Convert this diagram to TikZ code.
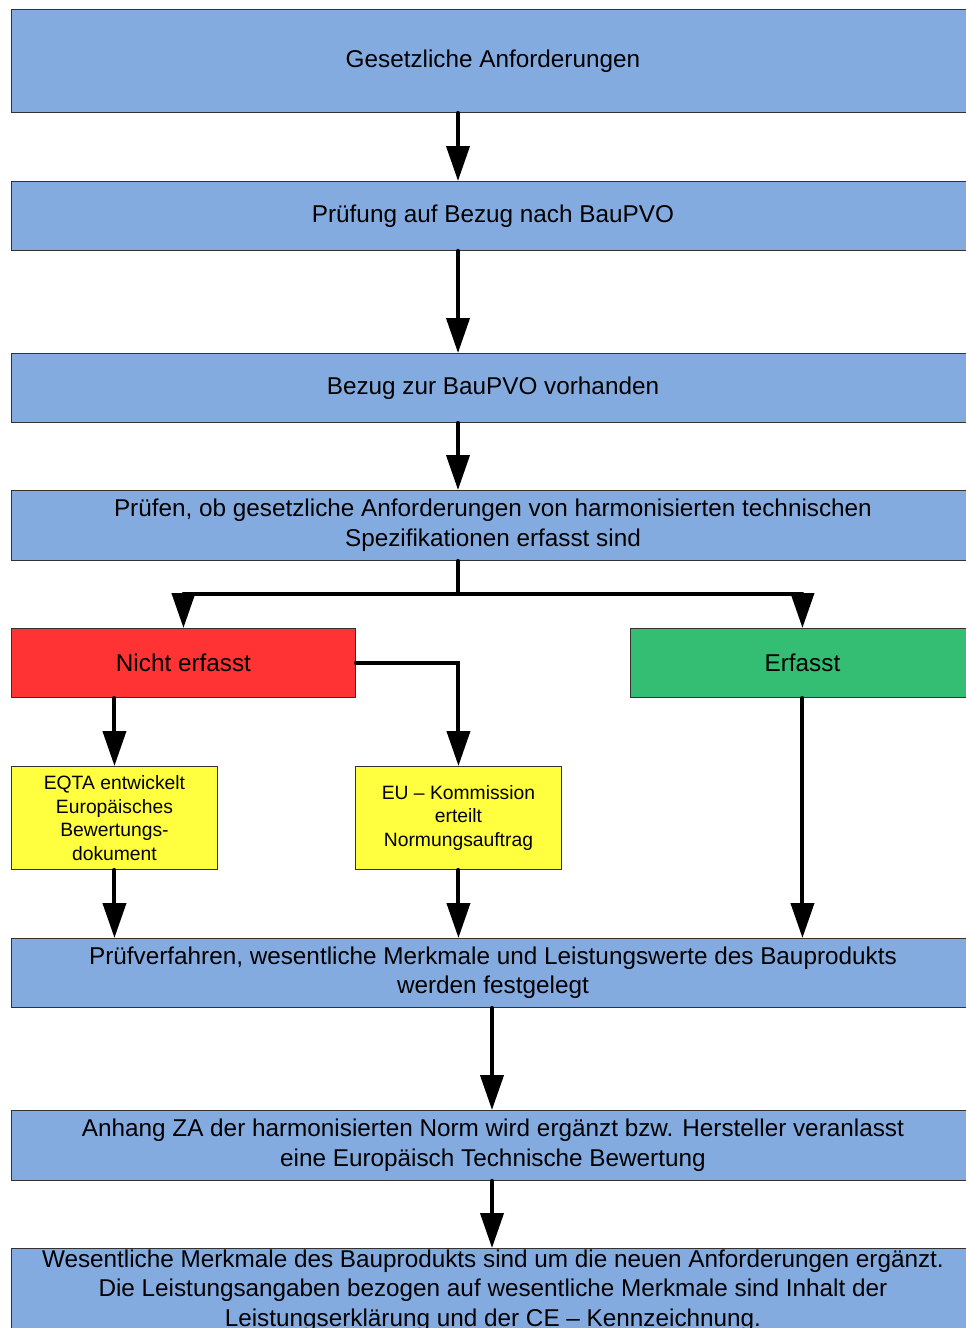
\documentclass[tikz,border=0pt]{standalone}
\usepackage{fontspec}
\setmainfont{Liberation Sans}
\usetikzlibrary{arrows.meta,calc}
\definecolor{bblue}{RGB}{132,171,224}
\definecolor{bred}{RGB}{255,51,51}
\definecolor{bgreen}{RGB}{51,190,116}
\definecolor{byellow}{RGB}{255,255,64}
\definecolor{bline}{RGB}{50,50,50}
\begin{document}
\begin{tikzpicture}[x=1pt,y=-1pt,
  box/.style={draw=bline,line width=0.9pt,anchor=north west,inner sep=0pt,align=center,
     font=\fontsize{24.3}{29.5}\selectfont},
  ybox/.style={box,fill=byellow,font=\fontsize{19.3}{23.6}\selectfont},
  arr/.style={line width=4pt,line cap=round,-{Triangle[length=35pt,width=23pt]}},
  conn/.style={line width=4pt,line cap=round}]
\useasboundingbox (0,0) rectangle (966,1328);
\clip (0,0) rectangle (966,1328);
\node[box,fill=bblue,minimum width=963,minimum height=103] (b1) at (11,9) {Gesetzliche Anforderungen};
\node[box,fill=bblue,minimum width=963,minimum height=69] (b2) at (11,181) {Prüfung auf Bezug nach BauPVO};
\node[box,fill=bblue,minimum width=963,minimum height=69] (b3) at (11,353) {Bezug zur BauPVO vorhanden};
\node[box,fill=bblue,minimum width=963,minimum height=70] (b4) at (11,490) {Prüfen, ob gesetzliche Anforderungen von harmonisierten technischen\\Spezifikationen erfasst sind};
\node[box,fill=bred,minimum width=344,minimum height=69] (nr) at (11,628) {Nicht erfasst};
\node[box,fill=bgreen,minimum width=344,minimum height=69] (er) at (630,628) {Erfasst};
\node[ybox,minimum width=206,minimum height=103] (y1) at (11,766) {EQTA entwickelt\\Europäisches\\Bewertungs-\\dokument};
\node[ybox,minimum width=206,minimum height=103] (y2) at (355,766) {EU – Kommission\\erteilt\\Normungsauftrag};
\node[box,fill=bblue,minimum width=963,minimum height=69] (b7) at (11,938) {Prüfverfahren, wesentliche Merkmale und Leistungswerte des Bauprodukts\\werden festgelegt};
\node[box,fill=bblue,minimum width=963,minimum height=70] (b8) at (11,1110) {Anhang ZA der harmonisierten Norm wird ergänzt bzw. Hersteller veranlasst\\eine Europäisch Technische Bewertung};
\node[box,fill=bblue,minimum width=963,minimum height=84] (b9) at (11,1248) {Wesentliche Merkmale des Bauprodukts sind um die neuen Anforderungen ergänzt.\\Die Leistungsangaben bezogen auf wesentliche Merkmale sind Inhalt der\\Leistungserklärung und der CE – Kennzeichnung.};
\coordinate (c) at (458,0);
\coordinate (s) at (458,594);
\draw[arr] (b1.south -| c) -- (b2.north -| c);
\draw[arr] (b2.south -| c) -- (b3.north -| c);
\draw[arr] (b3.south -| c) -- (b4.north -| c);
\draw[conn] (b4.south -| c) -- (s);
\draw[arr] (s) -| (nr.north);
\draw[arr] (s) -| (er.north);
\draw[arr] (nr.east) -| (y2.north);
\draw[arr] (nr.south -| y1.north) -- (y1.north);
\draw[arr] (y1.south) -- (b7.north -| y1.south);
\draw[arr] (y2.south) -- (b7.north -| y2.south);
\draw[arr] (er.south) -- (b7.north -| er.south);
\draw[arr] (b7.south -| 492,0) -- (b8.north -| 492,0);
\draw[arr] (b8.south -| 492,0) -- (b9.north -| 492,0);
\end{tikzpicture}
\end{document}
